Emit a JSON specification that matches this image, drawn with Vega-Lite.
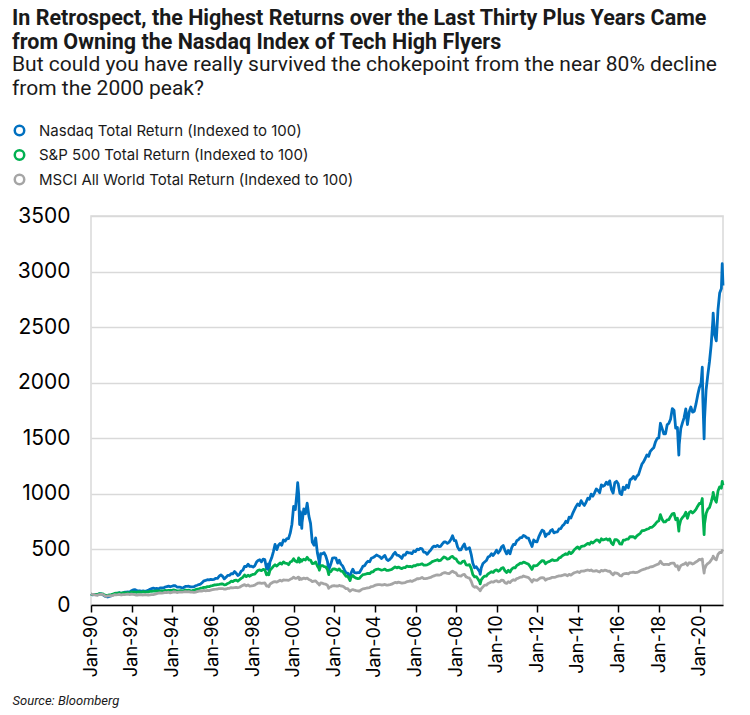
{
"$schema": "https://vega.github.io/schema/vega-lite/v6.json",
"width": 632, "height": 389,
"autosize": {"type": "none"},
"padding": {"left": 91, "top": 216, "right": 27, "bottom": 110},
"background": "white",
"title": {
  "text": ["In Retrospect, the Highest Returns over the Last Thirty Plus Years Came", "from Owning the Nasdaq Index of Tech High Flyers"],
  "subtitle": ["But could you have really survived the chokepoint from the near 80% decline", "from the 2000 peak?"],
  "anchor": "start", "frame": "group", "dx": -79, "offset": 24,
  "font": "Roboto", "fontSize": 21.5, "fontWeight": "bold", "color": "#1a1a1a", "lineHeight": 24,
  "subtitleFont": "Roboto", "subtitleFontSize": 21, "subtitleColor": "#1a1a1a", "subtitleLineHeight": 24, "subtitlePadding": 1
},
"data": {"values": [
{"d":"1990-01-01","n":100,"s":100,"m":100},
{"d":"1990-01-28","n":91,"s":93,"m":95},{"d":"1990-02-28","n":93,"s":94,"m":93},{"d":"1990-03-28","n":95,"s":96,"m":88},{"d":"1990-04-28","n":92,"s":94,"m":87},{"d":"1990-05-28","n":100,"s":102,"m":94},{"d":"1990-06-28","n":101,"s":101,"m":95},{"d":"1990-07-28","n":95,"s":101,"m":96},{"d":"1990-08-28","n":83,"s":91,"m":86},{"d":"1990-09-28","n":75,"s":87,"m":77},{"d":"1990-10-28","n":72,"s":86,"m":83},{"d":"1990-11-28","n":78,"s":91,"m":82},{"d":"1990-12-28","n":81,"s":93,"m":84},
{"d":"1991-01-28","n":90,"s":97,"m":85},{"d":"1991-02-28","n":99,"s":104,"m":93},{"d":"1991-03-28","n":105,"s":106,"m":92},{"d":"1991-04-28","n":106,"s":106,"m":93},{"d":"1991-05-28","n":110,"s":110,"m":95},{"d":"1991-06-28","n":104,"s":105,"m":90},{"d":"1991-07-28","n":109,"s":110,"m":94},{"d":"1991-08-28","n":115,"s":112,"m":94},{"d":"1991-09-28","n":115,"s":110,"m":96},{"d":"1991-10-28","n":118,"s":111,"m":97},{"d":"1991-11-28","n":114,"s":106,"m":93},{"d":"1991-12-28","n":128,"s":118,"m":98},
{"d":"1992-01-28","n":135,"s":116,"m":96},{"d":"1992-02-28","n":138,"s":117,"m":94},{"d":"1992-03-28","n":132,"s":114,"m":89},{"d":"1992-04-28","n":126,"s":117,"m":90},{"d":"1992-05-28","n":128,"s":118,"m":94},{"d":"1992-06-28","n":123,"s":115,"m":91},{"d":"1992-07-28","n":127,"s":120,"m":90},{"d":"1992-08-28","n":123,"s":117,"m":93},{"d":"1992-09-28","n":127,"s":118,"m":92},{"d":"1992-10-28","n":132,"s":118,"m":90},{"d":"1992-11-28","n":142,"s":122,"m":92},{"d":"1992-12-28","n":147,"s":123,"m":93},
{"d":"1993-01-28","n":152,"s":124,"m":94},{"d":"1993-02-28","n":146,"s":125,"m":97},{"d":"1993-03-28","n":150,"s":128,"m":102},{"d":"1993-04-28","n":144,"s":125,"m":106},{"d":"1993-05-28","n":153,"s":127,"m":108},{"d":"1993-06-28","n":153,"s":128,"m":107},{"d":"1993-07-28","n":154,"s":127,"m":109},{"d":"1993-08-28","n":162,"s":131,"m":114},{"d":"1993-09-28","n":166,"s":130,"m":112},{"d":"1993-10-28","n":170,"s":132,"m":115},{"d":"1993-11-28","n":164,"s":131,"m":109},{"d":"1993-12-28","n":169,"s":132,"m":113},
{"d":"1994-01-28","n":174,"s":136,"m":119},{"d":"1994-02-28","n":173,"s":132,"m":117},{"d":"1994-03-28","n":162,"s":126,"m":112},{"d":"1994-04-28","n":160,"s":128,"m":116},{"d":"1994-05-28","n":160,"s":129,"m":116},{"d":"1994-06-28","n":154,"s":126,"m":116},{"d":"1994-07-28","n":157,"s":130,"m":118},{"d":"1994-08-28","n":167,"s":135,"m":121},{"d":"1994-09-28","n":167,"s":131,"m":118},{"d":"1994-10-28","n":169,"s":134,"m":120},{"d":"1994-11-28","n":163,"s":128,"m":115},{"d":"1994-12-28","n":164,"s":130,"m":116},
{"d":"1995-01-28","n":165,"s":133,"m":114},{"d":"1995-02-28","n":173,"s":138,"m":116},{"d":"1995-03-28","n":178,"s":142,"m":121},{"d":"1995-04-28","n":184,"s":146,"m":125},{"d":"1995-05-28","n":188,"s":151,"m":126},{"d":"1995-06-28","n":203,"s":154,"m":126},{"d":"1995-07-28","n":218,"s":159,"m":131},{"d":"1995-08-28","n":222,"s":159,"m":128},{"d":"1995-09-28","n":227,"s":165,"m":132},{"d":"1995-10-28","n":226,"s":165,"m":130},{"d":"1995-11-28","n":231,"s":171,"m":134},{"d":"1995-12-28","n":229,"s":174,"m":138},
{"d":"1996-01-28","n":231,"s":180,"m":141},{"d":"1996-02-28","n":240,"s":181,"m":142},{"d":"1996-03-28","n":240,"s":183,"m":144},{"d":"1996-04-28","n":259,"s":185,"m":147},{"d":"1996-05-28","n":271,"s":189,"m":147},{"d":"1996-06-28","n":258,"s":190,"m":148},{"d":"1996-07-28","n":235,"s":181,"m":142},{"d":"1996-08-28","n":249,"s":184,"m":144},{"d":"1996-09-28","n":267,"s":194,"m":149},{"d":"1996-10-28","n":266,"s":200,"m":150},{"d":"1996-11-28","n":282,"s":214,"m":157},{"d":"1996-12-28","n":281,"s":210,"m":155},
{"d":"1997-01-28","n":301,"s":222,"m":157},{"d":"1997-02-28","n":285,"s":224,"m":159},{"d":"1997-03-28","n":266,"s":214,"m":155},{"d":"1997-04-28","n":275,"s":227,"m":160},{"d":"1997-05-28","n":305,"s":240,"m":169},{"d":"1997-06-28","n":314,"s":250,"m":177},{"d":"1997-07-28","n":347,"s":270,"m":183},{"d":"1997-08-28","n":346,"s":255,"m":172},{"d":"1997-09-28","n":367,"s":268,"m":181},{"d":"1997-10-28","n":347,"s":259,"m":170},{"d":"1997-11-28","n":349,"s":270,"m":172},{"d":"1997-12-28","n":342,"s":275,"m":175},
{"d":"1998-01-28","n":353,"s":277,"m":179},{"d":"1998-02-28","n":386,"s":297,"m":190},{"d":"1998-03-28","n":400,"s":312,"m":197},{"d":"1998-04-28","n":407,"s":315,"m":198},{"d":"1998-05-28","n":388,"s":309,"m":195},{"d":"1998-06-28","n":413,"s":321,"m":197},{"d":"1998-07-28","n":408,"s":317,"m":198},{"d":"1998-08-28","n":327,"s":271,"m":171},{"d":"1998-09-28","n":369,"s":288,"m":172},{"d":"1998-10-08","n":309,"s":272,"m":165},{"d":"1998-10-28","n":386,"s":311,"m":187},{"d":"1998-11-28","n":425,"s":329,"m":198},{"d":"1998-12-28","n":478,"s":348,"m":207},
{"d":"1999-01-28","n":546,"s":362,"m":210},{"d":"1999-02-28","n":498,"s":350,"m":206},{"d":"1999-03-28","n":536,"s":364,"m":214},{"d":"1999-04-28","n":554,"s":378,"m":223},{"d":"1999-05-28","n":538,"s":368,"m":215},{"d":"1999-06-28","n":585,"s":388,"m":225},{"d":"1999-07-28","n":575,"s":376,"m":224},{"d":"1999-08-28","n":597,"s":374,"m":224},{"d":"1999-09-28","n":598,"s":363,"m":222},{"d":"1999-10-28","n":646,"s":386,"m":231},{"d":"1999-11-28","n":727,"s":393,"m":238},{"d":"1999-12-28","n":887,"s":416,"m":250},
{"d":"2000-01-28","n":858,"s":395,"m":240},{"d":"2000-02-28","n":1023,"s":387,"m":242},{"d":"2000-03-10","n":1100,"s":395,"m":248},{"d":"2000-03-28","n":996,"s":424,"m":250},{"d":"2000-04-14","n":724,"s":385,"m":228},{"d":"2000-04-28","n":841,"s":411,"m":240},{"d":"2000-05-23","n":689,"s":394,"m":232},{"d":"2000-05-28","n":741,"s":402,"m":235},{"d":"2000-06-28","n":864,"s":412,"m":242},{"d":"2000-07-28","n":821,"s":405,"m":236},{"d":"2000-08-28","n":916,"s":429,"m":242},{"d":"2000-09-28","n":800,"s":406,"m":229},{"d":"2000-10-28","n":734,"s":404,"m":223},{"d":"2000-11-28","n":566,"s":372,"m":211},{"d":"2000-12-28","n":538,"s":374,"m":214},
{"d":"2001-01-28","n":604,"s":387,"m":217},{"d":"2001-02-28","n":469,"s":351,"m":199},{"d":"2001-03-28","n":401,"s":328,"m":186},{"d":"2001-04-04","n":357,"s":313,"m":180},{"d":"2001-04-28","n":461,"s":354,"m":199},{"d":"2001-05-28","n":460,"s":355,"m":196},{"d":"2001-06-28","n":471,"s":346,"m":190},{"d":"2001-07-28","n":442,"s":343,"m":187},{"d":"2001-08-28","n":393,"s":321,"m":178},{"d":"2001-09-21","n":310,"s":273,"m":150},{"d":"2001-09-28","n":327,"s":295,"m":160},{"d":"2001-10-28","n":368,"s":300,"m":164},{"d":"2001-11-28","n":421,"s":322,"m":173},{"d":"2001-12-28","n":425,"s":325,"m":175},
{"d":"2002-01-28","n":421,"s":320,"m":171},{"d":"2002-02-28","n":377,"s":313,"m":170},{"d":"2002-03-28","n":402,"s":325,"m":176},{"d":"2002-04-28","n":368,"s":305,"m":171},{"d":"2002-05-28","n":352,"s":302,"m":170},{"d":"2002-06-28","n":319,"s":280,"m":160},{"d":"2002-07-28","n":289,"s":258,"m":147},{"d":"2002-08-28","n":286,"s":259,"m":147},{"d":"2002-09-28","n":255,"s":231,"m":127},{"d":"2002-10-09","n":243,"s":220,"m":124},{"d":"2002-10-28","n":290,"s":251,"m":132},{"d":"2002-11-28","n":322,"s":265,"m":139},{"d":"2002-12-28","n":291,"s":249,"m":133},
{"d":"2003-01-28","n":288,"s":242,"m":129},{"d":"2003-02-28","n":291,"s":238,"m":126},{"d":"2003-03-28","n":292,"s":240,"m":126},{"d":"2003-04-28","n":319,"s":259,"m":137},{"d":"2003-05-28","n":348,"s":273,"m":145},{"d":"2003-06-28","n":354,"s":276,"m":148},{"d":"2003-07-28","n":378,"s":280,"m":151},{"d":"2003-08-28","n":394,"s":285,"m":155},{"d":"2003-09-28","n":389,"s":282,"m":157},{"d":"2003-10-28","n":421,"s":297,"m":166},{"d":"2003-11-28","n":427,"s":299,"m":168},{"d":"2003-12-28","n":436,"s":315,"m":176},
{"d":"2004-01-28","n":450,"s":320,"m":181},{"d":"2004-02-28","n":442,"s":324,"m":184},{"d":"2004-03-28","n":434,"s":319,"m":184},{"d":"2004-04-28","n":418,"s":313,"m":180},{"d":"2004-05-28","n":433,"s":317,"m":181},{"d":"2004-06-28","n":446,"s":323,"m":185},{"d":"2004-07-28","n":411,"s":312,"m":179},{"d":"2004-08-28","n":400,"s":312,"m":180},{"d":"2004-09-28","n":413,"s":315,"m":183},{"d":"2004-10-28","n":430,"s":320,"m":187},{"d":"2004-11-28","n":457,"s":332,"m":196},{"d":"2004-12-28","n":474,"s":343,"m":203},
{"d":"2005-01-28","n":449,"s":334,"m":199},{"d":"2005-02-28","n":447,"s":341,"m":206},{"d":"2005-03-28","n":436,"s":334,"m":202},{"d":"2005-04-28","n":419,"s":327,"m":197},{"d":"2005-05-28","n":451,"s":337,"m":200},{"d":"2005-06-28","n":448,"s":337,"m":202},{"d":"2005-07-28","n":476,"s":349,"m":210},{"d":"2005-08-28","n":469,"s":345,"m":212},{"d":"2005-09-28","n":469,"s":348,"m":219},{"d":"2005-10-28","n":462,"s":342,"m":212},{"d":"2005-11-28","n":486,"s":354,"m":220},{"d":"2005-12-28","n":480,"s":353,"m":226},
{"d":"2006-01-28","n":502,"s":362,"m":236},{"d":"2006-02-28","n":497,"s":362,"m":236},{"d":"2006-03-28","n":510,"s":366,"m":240},{"d":"2006-04-28","n":506,"s":371,"m":248},{"d":"2006-05-28","n":475,"s":359,"m":238},{"d":"2006-06-28","n":473,"s":359,"m":238},{"d":"2006-07-28","n":456,"s":361,"m":239},{"d":"2006-08-28","n":476,"s":369,"m":245},{"d":"2006-09-28","n":492,"s":378,"m":248},{"d":"2006-10-28","n":516,"s":390,"m":256},{"d":"2006-11-28","n":530,"s":396,"m":262},{"d":"2006-12-28","n":526,"s":401,"m":268},
{"d":"2007-01-28","n":537,"s":407,"m":270},{"d":"2007-02-28","n":526,"s":398,"m":268},{"d":"2007-03-28","n":528,"s":402,"m":272},{"d":"2007-04-28","n":550,"s":419,"m":284},{"d":"2007-05-28","n":567,"s":433,"m":290},{"d":"2007-06-28","n":567,"s":425,"m":290},{"d":"2007-07-28","n":555,"s":412,"m":284},{"d":"2007-08-28","n":566,"s":417,"m":282},{"d":"2007-09-28","n":589,"s":432,"m":295},{"d":"2007-10-28","n":623,"s":438,"m":305},{"d":"2007-11-28","n":580,"s":419,"m":293},{"d":"2007-12-28","n":578,"s":416,"m":289},
{"d":"2008-01-28","n":521,"s":390,"m":265},{"d":"2008-02-28","n":495,"s":377,"m":263},{"d":"2008-03-28","n":497,"s":374,"m":259},{"d":"2008-04-28","n":526,"s":392,"m":272},{"d":"2008-05-28","n":550,"s":396,"m":276},{"d":"2008-06-28","n":500,"s":362,"m":253},{"d":"2008-07-28","n":507,"s":359,"m":247},{"d":"2008-08-28","n":516,"s":363,"m":242},{"d":"2008-09-28","n":456,"s":330,"m":214},{"d":"2008-10-28","n":375,"s":274,"m":172},{"d":"2008-11-28","n":335,"s":254,"m":160},{"d":"2008-12-28","n":344,"s":256,"m":165},
{"d":"2009-01-28","n":322,"s":234,"m":150},{"d":"2009-02-28","n":300,"s":208,"m":136},{"d":"2009-03-09","n":276,"s":191,"m":128},{"d":"2009-03-28","n":333,"s":226,"m":146},{"d":"2009-04-28","n":374,"s":247,"m":163},{"d":"2009-05-28","n":387,"s":260,"m":179},{"d":"2009-06-28","n":400,"s":260,"m":178},{"d":"2009-07-28","n":431,"s":279,"m":194},{"d":"2009-08-28","n":438,"s":289,"m":201},{"d":"2009-09-28","n":462,"s":299,"m":209},{"d":"2009-10-28","n":446,"s":293,"m":205},{"d":"2009-11-28","n":467,"s":310,"m":214},{"d":"2009-12-28","n":494,"s":316,"m":218},
{"d":"2010-01-28","n":468,"s":304,"m":209},{"d":"2010-02-28","n":488,"s":313,"m":211},{"d":"2010-03-28","n":522,"s":331,"m":224},{"d":"2010-04-28","n":536,"s":336,"m":221},{"d":"2010-05-28","n":492,"s":308,"m":201},{"d":"2010-06-28","n":460,"s":292,"m":194},{"d":"2010-07-28","n":491,"s":312,"m":210},{"d":"2010-08-28","n":461,"s":297,"m":201},{"d":"2010-09-28","n":516,"s":323,"m":219},{"d":"2010-10-28","n":546,"s":335,"m":227},{"d":"2010-11-28","n":544,"s":334,"m":222},{"d":"2010-12-28","n":578,"s":356,"m":238},
{"d":"2011-01-28","n":588,"s":364,"m":242},{"d":"2011-02-28","n":606,"s":376,"m":250},{"d":"2011-03-28","n":606,"s":375,"m":250},{"d":"2011-04-28","n":626,"s":386,"m":261},{"d":"2011-05-28","n":618,"s":381,"m":255},{"d":"2011-06-28","n":604,"s":374,"m":251},{"d":"2011-07-28","n":601,"s":366,"m":247},{"d":"2011-08-28","n":562,"s":345,"m":229},{"d":"2011-09-28","n":526,"s":320,"m":207},{"d":"2011-10-28","n":585,"s":355,"m":230},{"d":"2011-11-28","n":571,"s":353,"m":223},{"d":"2011-12-28","n":568,"s":356,"m":221},
{"d":"2012-01-28","n":613,"s":371,"m":233},{"d":"2012-02-28","n":646,"s":386,"m":245},{"d":"2012-03-28","n":674,"s":399,"m":247},{"d":"2012-04-28","n":664,"s":396,"m":244},{"d":"2012-05-28","n":616,"s":371,"m":223},{"d":"2012-06-28","n":639,"s":385,"m":234},{"d":"2012-07-28","n":640,"s":390,"m":237},{"d":"2012-08-28","n":668,"s":398,"m":242},{"d":"2012-09-28","n":679,"s":408,"m":249},{"d":"2012-10-28","n":649,"s":400,"m":248},{"d":"2012-11-28","n":656,"s":401,"m":251},{"d":"2012-12-28","n":658,"s":404,"m":258},
{"d":"2013-01-28","n":685,"s":424,"m":262},{"d":"2013-02-28","n":688,"s":429,"m":262},{"d":"2013-03-28","n":712,"s":444,"m":266},{"d":"2013-04-28","n":725,"s":452,"m":273},{"d":"2013-05-28","n":753,"s":461,"m":272},{"d":"2013-06-28","n":741,"s":455,"m":263},{"d":"2013-07-28","n":790,"s":477,"m":276},{"d":"2013-08-28","n":782,"s":462,"m":269},{"d":"2013-09-28","n":822,"s":476,"m":281},{"d":"2013-10-28","n":854,"s":497,"m":290},{"d":"2013-11-28","n":885,"s":511,"m":295},{"d":"2013-12-28","n":910,"s":523,"m":300},
{"d":"2014-01-28","n":894,"s":504,"m":292},{"d":"2014-02-28","n":939,"s":526,"m":304},{"d":"2014-03-28","n":915,"s":530,"m":305},{"d":"2014-04-28","n":896,"s":533,"m":306},{"d":"2014-05-28","n":924,"s":544,"m":311},{"d":"2014-06-28","n":960,"s":555,"m":315},{"d":"2014-07-28","n":952,"s":546,"m":310},{"d":"2014-08-28","n":998,"s":567,"m":315},{"d":"2014-09-28","n":979,"s":558,"m":304},{"d":"2014-10-28","n":1009,"s":571,"m":305},{"d":"2014-11-28","n":1044,"s":585,"m":310},{"d":"2014-12-28","n":1032,"s":583,"m":303},
{"d":"2015-01-28","n":1010,"s":565,"m":297},{"d":"2015-02-28","n":1081,"s":596,"m":312},{"d":"2015-03-28","n":1068,"s":585,"m":305},{"d":"2015-04-28","n":1077,"s":590,"m":313},{"d":"2015-05-28","n":1105,"s":596,"m":311},{"d":"2015-06-28","n":1086,"s":584,"m":303},{"d":"2015-07-28","n":1117,"s":595,"m":305},{"d":"2015-08-28","n":1041,"s":558,"m":284},{"d":"2015-09-28","n":1007,"s":543,"m":272},{"d":"2015-10-28","n":1101,"s":588,"m":290},{"d":"2015-11-28","n":1113,"s":589,"m":287},{"d":"2015-12-28","n":1091,"s":578,"m":281},
{"d":"2016-01-28","n":1005,"s":549,"m":264},{"d":"2016-02-28","n":993,"s":547,"m":261},{"d":"2016-03-28","n":1061,"s":583,"m":279},{"d":"2016-04-28","n":1040,"s":584,"m":283},{"d":"2016-05-28","n":1078,"s":593,"m":284},{"d":"2016-06-28","n":1055,"s":594,"m":281},{"d":"2016-07-28","n":1125,"s":615,"m":292},{"d":"2016-08-28","n":1136,"s":614,"m":293},{"d":"2016-09-28","n":1157,"s":614,"m":295},{"d":"2016-10-28","n":1131,"s":602,"m":291},{"d":"2016-11-28","n":1160,"s":622,"m":293},{"d":"2016-12-28","n":1173,"s":634,"m":300},
{"d":"2017-01-28","n":1223,"s":645,"m":308},{"d":"2017-02-28","n":1269,"s":669,"m":316},{"d":"2017-03-28","n":1288,"s":669,"m":320},{"d":"2017-04-28","n":1318,"s":675,"m":325},{"d":"2017-05-28","n":1350,"s":682,"m":332},{"d":"2017-06-28","n":1338,"s":686,"m":334},{"d":"2017-07-28","n":1383,"s":699,"m":343},{"d":"2017-08-28","n":1401,"s":699,"m":344},{"d":"2017-09-28","n":1415,"s":713,"m":350},{"d":"2017-10-28","n":1466,"s":729,"m":357},{"d":"2017-11-28","n":1498,"s":749,"m":364},{"d":"2017-12-28","n":1504,"s":757,"m":370},
{"d":"2018-01-26","n":1635,"s":813,"m":395},{"d":"2018-02-28","n":1585,"s":768,"m":371},{"d":"2018-03-28","n":1539,"s":747,"m":363},{"d":"2018-04-28","n":1540,"s":749,"m":366},{"d":"2018-05-28","n":1621,"s":766,"m":365},{"d":"2018-06-28","n":1636,"s":769,"m":363},{"d":"2018-07-28","n":1671,"s":797,"m":374},{"d":"2018-08-28","n":1767,"s":821,"m":376},{"d":"2018-09-28","n":1753,"s":825,"m":377},{"d":"2018-10-28","n":1592,"s":767,"m":348},{"d":"2018-11-28","n":1597,"s":781,"m":353},{"d":"2018-12-24","n":1349,"s":665,"m":315},{"d":"2018-12-31","n":1446,"s":709,"m":328},
{"d":"2019-01-28","n":1586,"s":765,"m":354},{"d":"2019-02-28","n":1641,"s":788,"m":363},{"d":"2019-03-28","n":1684,"s":802,"m":367},{"d":"2019-04-28","n":1764,"s":834,"m":380},{"d":"2019-05-28","n":1624,"s":779,"m":357},{"d":"2019-06-28","n":1736,"s":832,"m":380},{"d":"2019-07-28","n":1781,"s":843,"m":378},{"d":"2019-08-28","n":1735,"s":828,"m":369},{"d":"2019-09-28","n":1743,"s":842,"m":376},{"d":"2019-10-28","n":1807,"s":860,"m":387},{"d":"2019-11-28","n":1888,"s":889,"m":397},{"d":"2019-12-28","n":1955,"s":914,"m":410},
{"d":"2020-01-28","n":1994,"s":913,"m":406},{"d":"2020-02-19","n":2139,"s":958,"m":415},{"d":"2020-02-28","n":1867,"s":836,"m":372},{"d":"2020-03-23","n":1495,"s":633,"m":288},{"d":"2020-03-31","n":1678,"s":731,"m":321},{"d":"2020-04-28","n":1937,"s":824,"m":356},{"d":"2020-05-28","n":2068,"s":861,"m":373},{"d":"2020-06-28","n":2191,"s":877,"m":384},{"d":"2020-07-28","n":2341,"s":926,"m":404},{"d":"2020-08-28","n":2565,"s":990,"m":430},{"d":"2020-09-02","n":2627,"s":1013,"m":440},{"d":"2020-09-28","n":2433,"s":952,"m":417},{"d":"2020-10-28","n":2377,"s":925,"m":406},{"d":"2020-11-28","n":2658,"s":1025,"m":455},{"d":"2020-12-28","n":2808,"s":1063,"m":474},
{"d":"2021-01-28","n":2848,"s":1051,"m":472},{"d":"2021-02-12","n":3071,"s":1113,"m":490},{"d":"2021-02-26","n":2874,"s":1078,"m":482}
]},
"transform": [{"fold": ["n", "s", "m"], "as": ["k", "v"]}],
"mark": {"type": "line", "strokeWidth": 2.8, "strokeJoin": "round"},
"encoding": {
  "x": {
    "field": "d", "type": "temporal",
    "scale": {"type": "utc", "domain": [{"year": 1990, "month": 1, "date": 1, "utc": true}, {"year": 2021, "month": 2, "date": 26, "utc": true}]},
    "axis": {
      "title": "Source: Bloomberg", "titleFont": "Roboto", "titleFontStyle": "italic", "titleFontWeight": "normal", "titleFontSize": 13, "titleColor": "#1a1a1a",
      "titleX": -79, "titleY": 99, "titleAlign": "left", "titleBaseline": "alphabetic", "titleAngle": 0,
      "format": "%b-%y", "labelAngle": 270, "labelFont": "Inter", "labelFontSize": 18, "labelColor": "black", "labelPadding": 3,
      "values": [
        {"year": 1990, "month": 1, "date": 1, "utc": true}, {"year": 1992, "month": 1, "date": 1, "utc": true}, {"year": 1994, "month": 1, "date": 1, "utc": true}, {"year": 1996, "month": 1, "date": 1, "utc": true},
        {"year": 1998, "month": 1, "date": 1, "utc": true}, {"year": 2000, "month": 1, "date": 1, "utc": true}, {"year": 2002, "month": 1, "date": 1, "utc": true}, {"year": 2004, "month": 1, "date": 1, "utc": true},
        {"year": 2006, "month": 1, "date": 1, "utc": true}, {"year": 2008, "month": 1, "date": 1, "utc": true}, {"year": 2010, "month": 1, "date": 1, "utc": true}, {"year": 2012, "month": 1, "date": 1, "utc": true},
        {"year": 2014, "month": 1, "date": 1, "utc": true}, {"year": 2016, "month": 1, "date": 1, "utc": true}, {"year": 2018, "month": 1, "date": 1, "utc": true}, {"year": 2020, "month": 1, "date": 1, "utc": true}
      ],
      "domainColor": "black", "domainWidth": 1.5, "tickColor": "black", "tickWidth": 1.5, "tickSize": 7, "grid": false, "labelOverlap": false
    }
  },
  "y": {
    "field": "v", "type": "quantitative",
    "scale": {"domain": [0, 3500], "nice": false},
    "axis": {
      "title": null, "values": [0, 500, 1000, 1500, 2000, 2500, 3000, 3500], "format": "d",
      "domain": false, "ticks": false, "labelFont": "Inter", "labelFontSize": 21, "labelColor": "black", "labelPadding": 21,
      "gridColor": "#d9d9d9", "gridWidth": 1.5
    }
  },
  "color": {
    "field": "k", "type": "nominal",
    "scale": {"domain": ["n", "s", "m"], "range": ["#0070c0", "#00b050", "#a5a5a5"]},
    "legend": {
      "orient": "none", "legendX": -79, "legendY": -93, "title": null, "direction": "vertical",
      "symbolType": "circle", "symbolSize": 90, "symbolStrokeWidth": 2.5,
      "labelFont": "Inter", "labelFontSize": 15, "labelColor": "#1a1a1a", "rowPadding": 3.5, "labelOffset": 12, "labelLimit": 500,
      "labelExpr": "datum.label == 'n' ? 'Nasdaq Total Return (Indexed to 100)' : datum.label == 's' ? 'S&P 500 Total Return (Indexed to 100)' : 'MSCI All World Total Return (Indexed to 100)'"
    }
  }
},
"config": {"view": {"stroke": "#d9d9d9", "strokeWidth": 1.5}}
}
